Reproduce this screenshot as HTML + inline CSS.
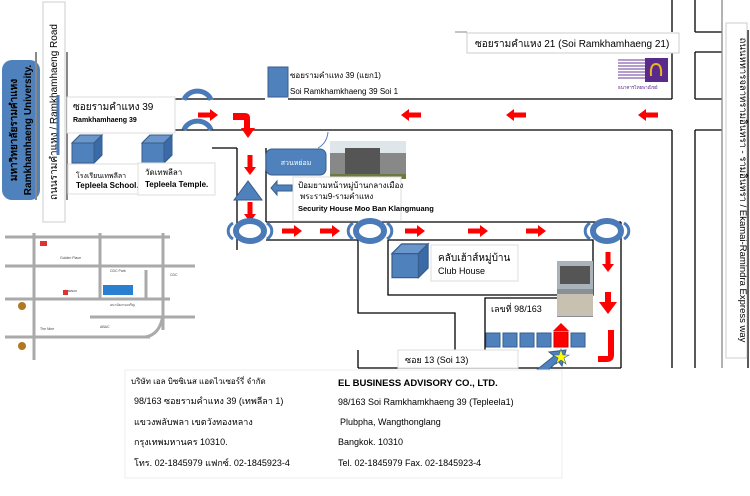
<!DOCTYPE html>
<html><head><meta charset="utf-8"><style>
body{margin:0;width:750px;height:496px;background:#fff;overflow:hidden;font-family:"Liberation Sans","Noto Sans CJK SC",sans-serif}
svg{display:block}
text{font-family:"Liberation Sans","Noto Sans CJK SC",sans-serif}
</style></head><body>
<svg width="750" height="496" viewBox="0 0 750 496">
<defs>
<g id="ra"><path d="M0,-2.5 H12 V-6 L20,0 L12,6 V2.5 H0Z" fill="#f00"/></g>
<g id="da"><path d="M-2.5,0 V12 H-6 L0,20 L6,12 H2.5 V0Z" fill="#f00"/></g>
<g id="cube"><path d="M0,8 L8,0 H30 V20 L22,28 H0Z" fill="#4f81bd" stroke="#385d8a"/><path d="M0,8 L8,0 H30 L22,8Z" fill="#6a96cc" stroke="#385d8a"/><path d="M22,8 L30,0 V20 L22,28Z" fill="#3a6aa8" stroke="#385d8a"/></g>
<g id="rb"><ellipse cx="0" cy="0" rx="14" ry="10" fill="none" stroke="#4a7ab8" stroke-width="6"/><path d="M-17,-8 A12,10 0 0 0 -17,8" fill="none" stroke="#4a7ab8" stroke-width="3"/><path d="M17,-8 A12,10 0 0 1 17,8" fill="none" stroke="#4a7ab8" stroke-width="3"/></g>
</defs>
<rect x="2" y="60" width="38" height="140" rx="10" fill="#4f81bd"/>
<text transform="translate(17,130) rotate(-90)" text-anchor="middle" font-size="10" font-weight="bold" fill="#000">มหาวิทยาลัยรามคำแหง</text>
<text transform="translate(31,130) rotate(-90)" text-anchor="middle" font-size="10" font-weight="bold" fill="#000">Ramkhamhaeng University.</text>
<line x1="36" y1="52" x2="36" y2="200" stroke="#888" stroke-width="2"/>
<line x1="67" y1="52" x2="67" y2="200" stroke="#888" stroke-width="2"/>
<rect x="43" y="2" width="22" height="220" fill="#fff" stroke="#ccc"/>
<text transform="translate(57,112) rotate(-90)" text-anchor="middle" font-size="10" fill="#000">ถนนรามคำแหง / Ramkhamhaeng Road</text>
<line x1="58" y1="95" x2="58" y2="155" stroke="#4a7ab8" stroke-width="3"/>
<g stroke="#000" stroke-width="1.3" fill="none">
<line x1="175" y1="99" x2="265" y2="99"/>
<line x1="288" y1="99" x2="672" y2="99"/>
<line x1="175" y1="130" x2="672" y2="130"/>
<line x1="212" y1="148" x2="237" y2="148"/>
<line x1="237" y1="148" x2="237" y2="250"/>
<line x1="266" y1="148" x2="266" y2="222"/>
<line x1="266" y1="222" x2="621" y2="222"/>
<line x1="266" y1="240" x2="358" y2="240"/>
<polyline points="358,240 358,313 455,313 455,350"/>
<polyline points="388,240 388,295 593,295 593,240 388,240"/>
<polyline points="485,350 485,298 593,298"/>
<line x1="621" y1="222" x2="621" y2="368"/>
<line x1="358" y1="368" x2="621" y2="368"/>
<line x1="358" y1="350" x2="358" y2="368"/>
<line x1="672" y1="0" x2="672" y2="32"/>
<line x1="672" y1="52" x2="672" y2="99"/>
<line x1="672" y1="130" x2="672" y2="368"/>
<line x1="695" y1="0" x2="695" y2="32"/>
<line x1="695" y1="32" x2="722" y2="32"/>
<line x1="695" y1="52" x2="722" y2="52"/>
<line x1="695" y1="52" x2="695" y2="99"/>
<line x1="695" y1="99" x2="722" y2="99"/>
<line x1="695" y1="130" x2="722" y2="130"/>
<line x1="695" y1="130" x2="695" y2="368"/>
<line x1="748" y1="30" x2="748" y2="368"/>
</g>
<line x1="722" y1="0" x2="722" y2="368" stroke="#888" stroke-width="1.3"/>
<rect x="726" y="23" width="21" height="335" fill="#fff" stroke="#ccc"/>
<text transform="translate(740,190) rotate(90)" text-anchor="middle" font-size="9.5" fill="#000">ถนนหทารจลาทรามอินทรา - รามอินทรา / Ekamai-Ramindra Express way</text>
<rect x="467" y="33" width="212" height="20" fill="#fff" stroke="#ccc"/>
<text x="475" y="47" font-size="10">ซอยรามคำแหง 21 (Soi Ramkhamhaeng 21)</text>
<line x1="455" y1="32" x2="467" y2="32" stroke="#888"/>
<g>
<rect x="618" y="58" width="26" height="25" fill="#fff"/>
<g stroke="#6a3a9a" stroke-width="1"><line x1="618" y1="60" x2="645" y2="60"/><line x1="618" y1="63" x2="645" y2="63"/><line x1="618" y1="66" x2="645" y2="66"/><line x1="618" y1="69" x2="645" y2="69"/><line x1="618" y1="72" x2="645" y2="72"/><line x1="618" y1="75" x2="645" y2="75"/><line x1="618" y1="78" x2="645" y2="78"/></g>
<rect x="645" y="58" width="23" height="24" fill="#5a2a8a"/>
<path d="M651,76 Q650,64 656,64 Q662,64 661,76" fill="none" stroke="#e8b820" stroke-width="2"/>
<text x="618" y="89" font-size="4.5" fill="#5a2a8a">ธนาคารไทยพาณิชย์</text>
</g>
<g transform="translate(421,115) rotate(180)"><use href="#ra"/></g>
<g transform="translate(526,115) rotate(180)"><use href="#ra"/></g>
<g transform="translate(658,115) rotate(180)"><use href="#ra"/></g>
<rect x="67" y="97" width="108" height="36" fill="#fff" stroke="#ddd"/>
<text x="73" y="110" font-size="10">ซอยรามคำแหง 39</text>
<text x="73" y="122" font-size="7" font-weight="bold">Ramkhamhaeng 39</text>
<path d="M184,100 A14,12 0 0 1 211,100" fill="none" stroke="#4a7ab8" stroke-width="5"/>
<path d="M184,130 A14,12 0 0 1 211,130" fill="none" stroke="#4a7ab8" stroke-width="5"/>
<rect x="268" y="67" width="20" height="30" fill="#4f81bd" stroke="#385d8a"/>
<text x="290" y="78" font-size="8" font-family="Liberation Serif">ซอยรามคำแหง 39 (แยก1)</text>
<text x="290" y="94" font-size="8" font-family="Liberation Serif">Soi Ramkhamkhaeng 39 Soi 1</text>
<use href="#cube" x="72" y="135"/>
<use href="#cube" x="142" y="135"/>
<rect x="68" y="164" width="70" height="30" fill="#fff" stroke="#ddd"/>
<text x="76" y="178" font-size="7">โรงเรียนเทพลีลา</text>
<text x="76" y="188" font-size="8" font-weight="bold">Tepleela School.</text>
<rect x="138" y="163" width="77" height="32" fill="#fff" stroke="#ddd"/>
<text x="145" y="175" font-size="8">วัดเทพลีลา</text>
<text x="145" y="187" font-size="8" font-weight="bold">Tepleela Temple.</text>
<use href="#ra" x="198" y="115"/>
<path d="M233,113 H245 Q250,113 250,118 V128 H255 L248,138 L241,128 H244 V120 H233Z" fill="#f00"/>
<use href="#da" x="250" y="155"/>
<path d="M248,181 L234,200 H262Z" fill="#4f81bd" stroke="#385d8a"/>
<use href="#da" x="250" y="202"/>
<rect x="266" y="149" width="60" height="26" rx="6" fill="#4f81bd" stroke="#385d8a"/>
<text x="296" y="165" font-size="7" fill="#fff" text-anchor="middle">สวนหย่อม</text>
<rect x="330" y="141" width="76" height="38" fill="#888"/>
<rect x="330" y="141" width="76" height="12" fill="#dfe6ea"/>
<rect x="345" y="148" width="35" height="27" fill="#555"/>
<rect x="330" y="174" width="76" height="5" fill="#6a7a40"/>
<path d="M318,148 Q327,143 328,132" fill="none" stroke="#4a7ab8"/>
<rect x="293" y="177" width="108" height="44" fill="#fff" stroke="#ddd"/>
<path d="M292,185 H277 V181 L271,188 L277,195 V191 H292Z" fill="#4f81bd" stroke="#385d8a"/>
<text x="298" y="188" font-size="8">ป้อมยามหน้าหมู่บ้านกลางเมือง</text>
<text x="300" y="199" font-size="8">พระราม9-รามคำแหง</text>
<text x="298" y="211" font-size="7.5" font-weight="bold">Security House Moo Ban Klangmuang</text>
<use href="#rb" x="250" y="231"/>
<use href="#rb" x="370" y="231"/>
<use href="#rb" x="607" y="231"/>
<use href="#ra" x="282" y="231"/>
<use href="#ra" x="320" y="231"/>
<use href="#ra" x="405" y="231"/>
<use href="#ra" x="468" y="231"/>
<use href="#ra" x="526" y="231"/>
<g transform="translate(392,244) scale(1.2)"><use href="#cube"/></g>
<rect x="431" y="245" width="87" height="36" fill="#fff" stroke="#ddd"/>
<text x="438" y="261" font-size="10">คลับเฮ้าส์หมู่บ้าน</text>
<text x="438" y="274" font-size="9">Club House</text>
<rect x="557" y="261" width="36" height="56" fill="#8a9098"/>
<rect x="557" y="261" width="36" height="28" fill="#aab2ba"/>
<rect x="560" y="266" width="30" height="18" fill="#555"/>
<rect x="557" y="294" width="36" height="22" fill="#c8c0b0"/>
<text x="491" y="312" font-size="9">เลขที่ 98/163</text>
<g fill="#4f81bd" stroke="#385d8a">
<rect x="486" y="333" width="14" height="14"/><rect x="503" y="333" width="14" height="14"/><rect x="520" y="333" width="14" height="14"/><rect x="537" y="333" width="14" height="14"/><rect x="571" y="333" width="14" height="14"/>
</g>
<rect x="554" y="332" width="14" height="15" fill="#f00" stroke="#c00"/>
<path d="M561,323 L553,331 H569Z" fill="#f00"/>
<use href="#da" x="608" y="252"/>
<path d="M605,292 V302 H599 L608,314 L617,302 H611 V292Z" fill="#f00"/>
<path d="M608,330 H614 V355 Q614,362 606,362 H598 V356 H608Z" fill="#f00"/>
<rect x="398" y="350" width="120" height="18" fill="#fff" stroke="#ddd"/>
<text x="405" y="363" font-size="9">ซอย 13  (Soi 13)</text>
<path d="M524,380 L554,356 L549,352 L566,350 L562,366 L558,361 L530,387Z" fill="#4f81bd" stroke="#385d8a"/>
<path d="M561,349 L563,355 L569,355 L564,358 L566,364 L561,360 L556,364 L558,358 L553,355 L559,355Z" fill="#ff0" stroke="#385d8a" stroke-width="0.6"/>
<g>
<rect x="5" y="233" width="190" height="127" fill="#fff"/>
<g stroke="#aaa" stroke-width="3">
<line x1="5" y1="237" x2="170" y2="237"/><line x1="5" y1="266" x2="195" y2="266"/><line x1="5" y1="299" x2="170" y2="299"/><line x1="90" y1="317" x2="195" y2="317"/><line x1="5" y1="337" x2="150" y2="337"/>
<line x1="34" y1="233" x2="34" y2="360"/><line x1="100" y1="233" x2="100" y2="299"/><line x1="163" y1="233" x2="163" y2="330"/><line x1="146" y1="270" x2="146" y2="299"/>
<path d="M163,315 Q160,335 145,337" fill="none"/>
</g>
<g font-size="3.5" fill="#444">
<text x="60" y="259">Golden Place</text><text x="110" y="272">CDC Park</text><text x="65" y="292">Lawson</text><text x="110" y="306">อนามัยงามเจริญ</text><text x="40" y="330">The Nine</text><text x="100" y="328">ABAC</text><text x="170" y="276">CDC</text>
</g>
<rect x="103" y="285" width="30" height="10" fill="#2a80d0"/>
<circle cx="22" cy="306" r="4" fill="#b07820"/><circle cx="22" cy="346" r="4" fill="#b07820"/>
<rect x="40" y="241" width="7" height="5" fill="#d33"/><rect x="63" y="290" width="5" height="5" fill="#d33"/>
</g>
<rect x="125" y="370" width="437" height="108" fill="#fff" stroke="#eee"/>
<text x="131" y="384" font-size="8" font-family="Liberation Serif">บริษัท เอล บิซซิเนส แอดไวเซอร์รี่ จำกัด</text>
<text x="134" y="404" font-size="9">98/163 ซอยรามคำแหง 39 (เทพลีลา 1)</text>
<text x="134" y="425" font-size="9">แขวงพลับพลา เขตวังทองหลาง</text>
<text x="134" y="445" font-size="9">กรุงเทพมหานคร 10310.</text>
<text x="134" y="466" font-size="9">โทร. 02-1845979 แฟกซ์. 02-1845923-4</text>
<text x="338" y="386" font-size="9.5" font-weight="bold">EL BUSINESS ADVISORY CO., LTD.</text>
<text x="338" y="405" font-size="9">98/163 Soi Ramkhamkhaeng 39 (Tepleela1)</text>
<text x="340" y="425" font-size="9">Plubpha, Wangthonglang</text>
<text x="338" y="445" font-size="9">Bangkok. 10310</text>
<text x="338" y="466" font-size="9">Tel. 02-1845979 Fax. 02-1845923-4</text>
</svg>
</body></html>
